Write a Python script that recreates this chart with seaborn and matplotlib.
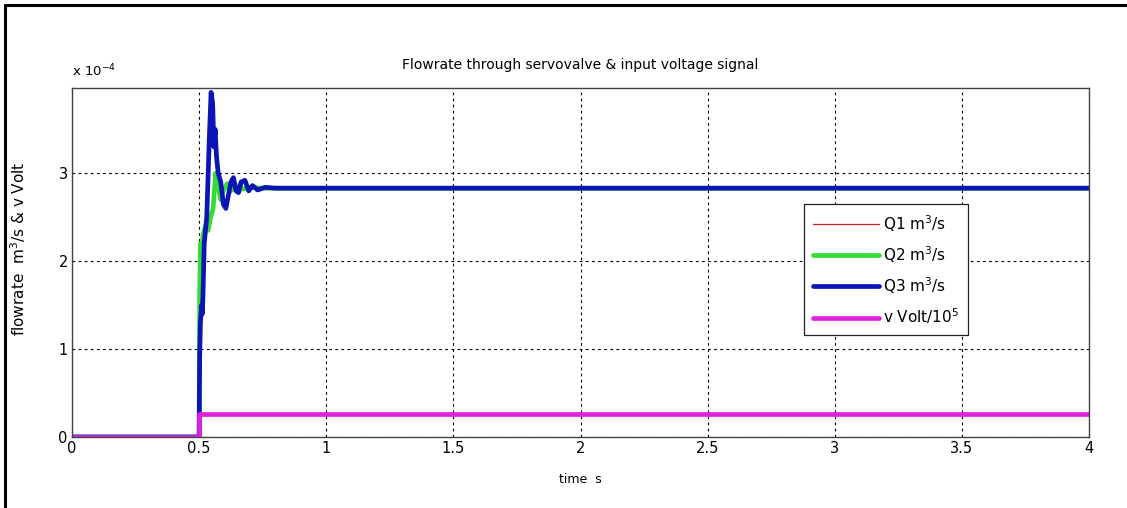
import numpy as np
import pandas as pd
import matplotlib
matplotlib.use("Agg")
import matplotlib.pyplot as plt
from matplotlib.lines import Line2D
import seaborn as sns

# ---- data (flow values in units of 1e-4 m^3/s) ----
t_q3 = [0, 0.5, 0.502, 0.505, 0.510, 0.512, 0.515, 0.52, 0.53, 0.54, 0.547, 0.553, 0.558,
        0.563, 0.568, 0.575, 0.585, 0.595, 0.605, 0.615, 0.625, 0.635, 0.645, 0.655, 0.665,
        0.68, 0.695, 0.71, 0.73, 0.76, 0.8, 4.0]
q3 = [0, 0, 0.9, 1.3, 1.5, 1.4, 1.6, 2.2, 2.5, 3.4, 3.92, 3.8, 3.3,
      3.5, 3.2, 3.0, 2.9, 2.65, 2.6, 2.75, 2.9, 2.95, 2.8, 2.78, 2.9,
      2.92, 2.8, 2.86, 2.81, 2.84, 2.83, 2.83]
t_q2 = [0, 0.5, 0.502, 0.505, 0.51, 0.515, 0.525, 0.535, 0.545, 0.555, 0.565, 0.575, 0.585,
        0.595, 0.61, 0.625, 0.645, 0.67, 0.7, 0.75, 4.0]
q2 = [0, 0, 1.6, 2.2, 2.0, 2.3, 2.4, 2.35, 2.5, 2.6, 3.0, 2.85, 2.7,
      2.8, 2.88, 2.8, 2.86, 2.82, 2.84, 2.83, 2.83]
t_q1 = t_q3
q1 = q3
t_v = [0, 0.5, 0.5, 4.0]
v = [0, 0, 0.26, 0.26]

labels = ["Q1 m$^3$/s", "Q2 m$^3$/s", "Q3 m$^3$/s", "v Volt/10$^5$"]
x_ticks = [0, 0.5, 1, 1.5, 2, 2.5, 3, 3.5, 4]
x_ticklabels = ["0", "0.5", "1", "1.5", "2", "2.5", "3", "3.5", "4"]
y_ticks = [0, 1, 2, 3]

sns.set_style("white")
plt.rcParams['font.family'] = ['DejaVu Sans']
plt.rcParams['mathtext.fontset'] = 'dejavusans'
plt.rcParams['text.color'] = 'black'
plt.rcParams['axes.labelcolor'] = 'black'
plt.rcParams['xtick.color'] = 'black'
plt.rcParams['ytick.color'] = 'black'

fig = plt.figure(figsize=(11.27, 5.08), dpi=100)
ax = fig.add_axes([0.0639, 0.1398, 0.9024, 0.687])

sns.lineplot(x=t_q1, y=q1, ax=ax, color="#cc2020", lw=0.9, label=labels[0],
             estimator=None, sort=False)
sns.lineplot(x=t_q2, y=q2, ax=ax, color="#33dd33", lw=3.4, label=labels[1],
             estimator=None, sort=False)
sns.lineplot(x=t_q3, y=q3, ax=ax, color="#0b14b4", lw=3.4, label=labels[2],
             estimator=None, sort=False)
sns.lineplot(x=t_v, y=v, ax=ax, color="#e020e0", lw=3.4, label=labels[3],
             estimator=None, sort=False)

ax.set_xlim(0, 4)
ax.set_ylim(0, 3.97)
ax.set_xticks(x_ticks)
ax.set_xticklabels(x_ticklabels)
ax.set_yticks(y_ticks)
ax.tick_params(direction='in', length=4, labelsize=10.5, color='#333333', pad=3)
ax.grid(True, color='black', linestyle=(0, (2.5, 3)), linewidth=0.8)
for s in ax.spines.values():
    s.set_color('#444444')
    s.set_linewidth(1.0)

ax.set_title("Flowrate through servovalve & input voltage signal", fontsize=10, pad=14)
ax.set_xlabel("time  s", fontsize=9, labelpad=12)
ax.set_ylabel("flowrate  m$^3$/s & v Volt", fontsize=11, labelpad=18)
ax.yaxis.set_label_coords(-0.043, 0.54)
ax.text(0.0, 1.025, "x 10$^{-4}$", transform=ax.transAxes, fontsize=9.5, va='bottom', ha='left')

leg = ax.legend(loc='lower left', bbox_to_anchor=(0.72, 0.292), fontsize=11,
                frameon=True, fancybox=False, edgecolor='#222222', framealpha=1,
                handlelength=4.3, labelspacing=0.68, borderpad=0.6, handletextpad=0.25,
                borderaxespad=0)
leg.get_frame().set_linewidth(0.9)

# outer frame (left and top visible)
fig.add_artist(Line2D([0.0044, 0.0044], [0, 0.99], transform=fig.transFigure, color='black', lw=2.2))
fig.add_artist(Line2D([0.0044, 1.0], [0.99, 0.99], transform=fig.transFigure, color='black', lw=2.2))

fig.savefig("out.png", dpi=100)
